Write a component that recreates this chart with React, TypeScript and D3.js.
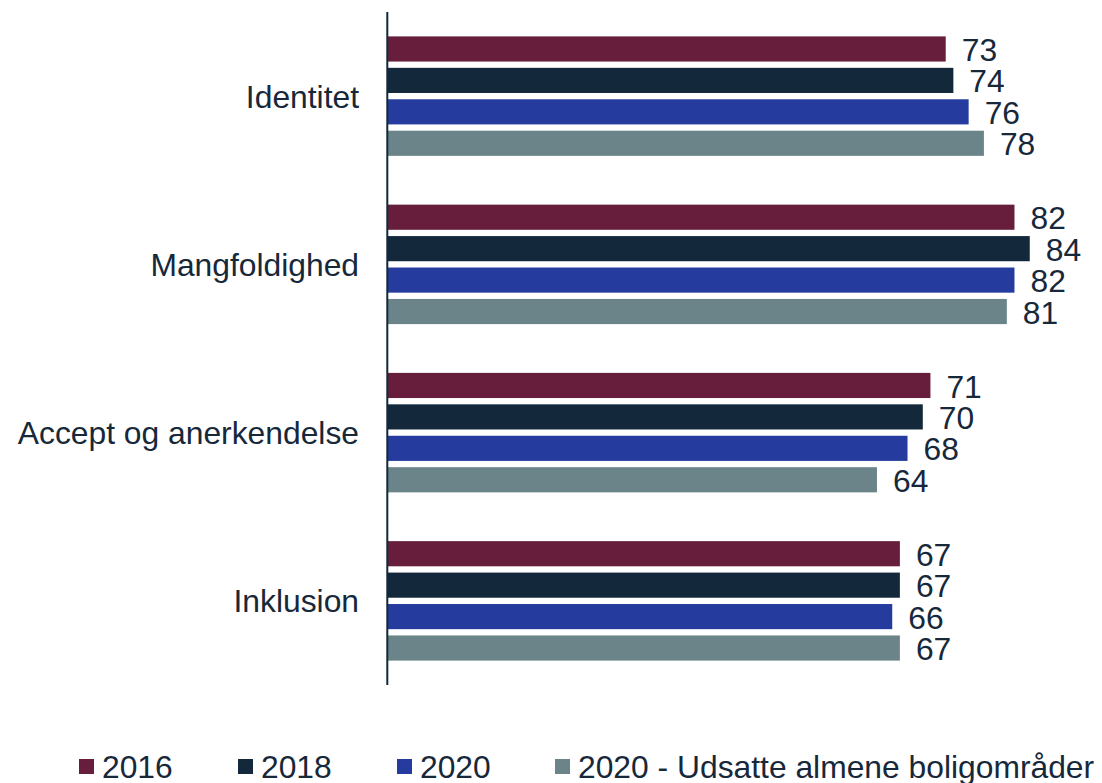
import React from "react";
import * as d3 from "d3";

const categories = ["Identitet", "Mangfoldighed", "Accept og anerkendelse", "Inklusion"];
const seriesNames = ["2016", "2018", "2020", "2020 - Udsatte almene boligområder"];
const values2016 = [73, 82, 71, 67];
const values2018 = [74, 84, 70, 67];
const values2020 = [76, 82, 68, 66];
const valuesUdsatte = [78, 81, 64, 67];
const colors = ["#661E3C", "#13283B", "#253C9E", "#6B8489"];

const seriesValues = [values2016, values2018, values2020, valuesUdsatte];

const W = 1102;
const H = 783;
const textColor = "#16283A";
const font = "'Liberation Sans', Arial, sans-serif";
const fs = 31.8;

export default function App() {
  const x = d3.scaleLinear().domain([0, 100]).range([388, 1152]);
  const y0 = d3
    .scaleBand<string>()
    .domain(categories)
    .range([12, 685])
    .paddingInner(0.29)
    .paddingOuter(0.145);
  const y1 = d3
    .scaleBand<string>()
    .domain(seriesNames)
    .range([0, y0.bandwidth()])
    .paddingInner(0.2);

  const legendX = [79, 238, 397, 555];

  return (
    <svg
      width={W}
      height={H}
      style={{ position: "absolute", left: 0, top: 0, display: "block" }}
      fontFamily={font}
    >
      <rect width={W} height={H} fill="#fff" />
      {categories.map((cat, ci) => {
        const gy = y0(cat)!;
        return (
          <g key={cat}>
            <text
              x={359}
              y={gy + y0.bandwidth() / 2}
              dy="0.36em"
              textAnchor="end"
              fontSize={fs}
              fill={textColor}
            >
              {cat}
            </text>
            {seriesNames.map((s, si) => {
              const v = seriesValues[si][ci];
              const by = gy + y1(s)!;
              return (
                <g key={s}>
                  <rect
                    x={x(0)}
                    y={by}
                    width={x(v) - x(0)}
                    height={y1.bandwidth()}
                    fill={colors[si]}
                  />
                  <text
                    x={x(v) + 16}
                    y={by + y1.bandwidth() / 2}
                    dy="0.38em"
                    fontSize={fs}
                    fill={textColor}
                  >
                    {v}
                  </text>
                </g>
              );
            })}
          </g>
        );
      })}
      <line x1={387.3} x2={387.3} y1={12} y2={685} stroke="#13283B" strokeWidth={2} />
      {seriesNames.map((s, si) => (
        <g key={s}>
          <rect x={legendX[si]} y={759} width={15} height={15} fill={colors[si]} />
          <text x={legendX[si] + 23} y={777.5} fontSize={fs} fill={textColor}>
            {s}
          </text>
        </g>
      ))}
    </svg>
  );
}
